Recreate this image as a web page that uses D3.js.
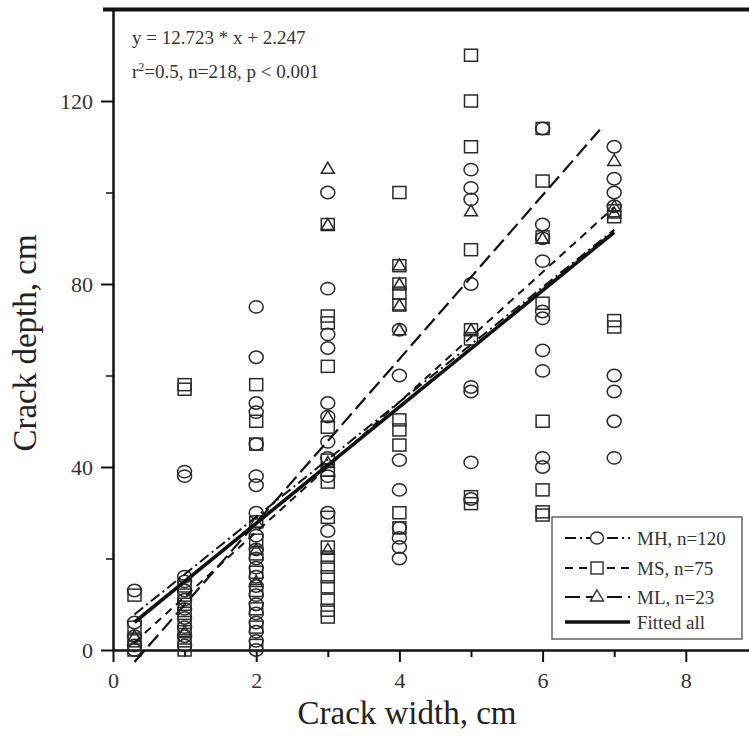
<!DOCTYPE html>
<html>
<head>
<meta charset="utf-8">
<script src="https://cdn.jsdelivr.net/npm/d3@7"></script>
<style>
  body { margin: 0; background: #fff; }
  svg { display: block; font-family: "Liberation Serif", "DejaVu Serif", serif; }
  .axis path, .axis line { stroke: #111; }
  .axis text { font-family: "Liberation Serif", serif; fill: #333; }
</style>
</head>
<body>
<script>
// crack width columns and depth readings, one list per group
var xMajor = [0, 2, 4, 6, 8],
   xMinor = [1, 3, 5, 7],
   yMajor = [0, 40, 80, 120],
   yMinor = [20, 60, 100, 140];

var mhPoints = [
   [0.3, 13], [0.3, 6], [0.3, 3], [0.3, 1], [0.3, 0],
   [1, 39], [1, 38], [1, 16], [1, 15], [1, 13], [1, 11], [1, 9], [1, 7], [1, 5], [1, 3], [1, 1],
   [2, 75], [2, 64], [2, 54], [2, 52], [2, 45], [2, 38], [2, 36], [2, 30], [2, 25], [2, 22], [2, 20],
   [2, 18], [2, 16], [2, 14], [2, 12], [2, 10], [2, 8], [2, 6], [2, 4], [2, 2], [2, 0],
   [3, 100], [3, 79], [3, 69], [3, 66], [3, 54], [3, 51], [3, 45.5], [3, 42], [3, 38], [3, 30], [3, 26],
   [4, 70], [4, 60], [4, 41.5], [4, 35], [4, 26.7], [4, 24.5], [4, 22.5], [4, 20],
   [5, 105], [5, 101], [5, 98.5], [5, 80], [5, 57.5], [5, 56.5], [5, 41], [5, 33],
   [6, 114], [6, 93], [6, 90], [6, 85], [6, 74], [6, 72.5], [6, 65.5], [6, 61], [6, 42], [6, 40],
   [7, 110], [7, 103], [7, 100], [7, 97], [7, 60], [7, 56.5], [7, 50], [7, 42]
];

var msPoints = [
   [0.3, 12], [0.3, 5], [0.3, 2], [0.3, 0],
   [1, 58], [1, 57], [1, 14], [1, 12], [1, 10], [1, 8], [1, 6], [1, 4], [1, 2], [1, 0],
   [2, 58], [2, 50], [2, 45], [2, 28], [2, 24], [2, 21], [2, 17], [2, 13], [2, 9], [2, 5], [2, 1],
   [3, 93], [3, 73], [3, 71.5], [3, 62], [3, 48.7], [3, 41.5], [3, 39.3], [3, 36.7], [3, 29],
   [3, 22.5], [3, 20.3], [3, 18.1], [3, 16], [3, 13.8], [3, 10.9], [3, 8.7], [3, 7.2],
   [4, 100], [4, 84], [4, 80], [4, 78], [4, 75.4], [4, 50.3], [4, 48.1], [4, 44.8], [4, 30], [4, 26.7],
   [5, 130], [5, 120], [5, 110], [5, 87.5], [5, 70], [5, 68], [5, 33.5], [5, 32],
   [6, 114], [6, 102.5], [6, 90.3], [6, 75.8], [6, 50], [6, 35], [6, 30.2], [6, 29.5],
   [7, 96], [7, 94.7], [7, 72], [7, 70.6]
];

var mlPoints = [
   [0.3, 3], [1, 4], [2, 28], [2, 22], [2, 15], [3, 105.3], [3, 93], [3, 51], [3, 41], [3, 22],
   [4, 84.2], [4, 80], [4, 75.4], [4, 70], [5, 96], [5, 70], [6, 90], [7, 107], [7, 97], [7, 95.5]
];

// regression lines: slope, intercept, x range
var lineNames = ["MH", "MS", "ML", "Fitted all"],
   lineSlopes = [12.55, 14.2, 17.9, 12.723],
   lineIntercepts = [4.0, -2.6, -8.0, 2.247],
   lineStart = [0.3, 0.3, 0.3, 0.3],
   lineEnd = [7, 7, 6.8, 7];

var legendLabels = ["MH, n=120", "MS, n=75", "ML, n=23", "Fitted all"];

var width = 749, height = 747;

var x = d3.scaleLinear().domain([0, 9]).range([113, 757.4]);
var y = d3.scaleLinear().domain([0, 140]).range([650, 9.5]);

var svg = d3.select("body").append("svg")
   .attr("width", width)
   .attr("height", height);

//axes, major and minor ticks
svg.append("g")
   .attr("class", "axis")
   .attr("transform", "translate(0," + y(0) + ")")
   .call(d3.axisBottom(x).tickValues(xMinor).tickSize(7).tickSizeOuter(0).tickFormat(""))
   .call(function(g) { g.select(".domain").remove(); })
   .selectAll("line").attr("stroke-width", 2);

var xg = svg.append("g")
   .attr("class", "axis")
   .attr("transform", "translate(0," + y(0) + ")")
   .call(d3.axisBottom(x).tickValues(xMajor).tickSize(12).tickSizeOuter(0).tickPadding(10));
xg.select(".domain").attr("stroke-width", 2.5);
xg.selectAll("line").attr("stroke-width", 2);
xg.selectAll("text").attr("font-size", 22);

svg.append("g")
   .attr("class", "axis")
   .attr("transform", "translate(" + x(0) + ",0)")
   .call(d3.axisLeft(y).tickValues(yMinor).tickSize(7).tickSizeOuter(0).tickFormat(""))
   .call(function(g) { g.select(".domain").remove(); })
   .selectAll("line").attr("stroke-width", 1.5);

var yg = svg.append("g")
   .attr("class", "axis")
   .attr("transform", "translate(" + x(0) + ",0)")
   .call(d3.axisLeft(y).tickValues(yMajor).tickSize(12).tickSizeOuter(0).tickPadding(8));
yg.select(".domain").attr("stroke-width", 2.5);
yg.selectAll("line").attr("stroke-width", 2);
yg.selectAll("text").attr("font-size", 22);

// heavy top frame line
svg.append("line")
   .attr("x1", x(0) - 10).attr("x2", width)
   .attr("y1", y(140)).attr("y2", y(140))
   .attr("stroke", "#111").attr("stroke-width", 4);

// markers
var markStroke = "#2a2a2a";

svg.append("g").selectAll("rect")
   .data(msPoints)
   .enter().append("rect")
   .attr("x", function(d) { return x(d[0]) - 6.5; })
   .attr("y", function(d) { return y(d[1]) - 6; })
   .attr("width", 13).attr("height", 12)
   .attr("fill", "none").attr("stroke", markStroke).attr("stroke-width", 1.5);

svg.append("g").selectAll("ellipse")
   .data(mhPoints)
   .enter().append("ellipse")
   .attr("cx", function(d) { return x(d[0]); })
   .attr("cy", function(d) { return y(d[1]); })
   .attr("rx", 7).attr("ry", 6.2)
   .attr("fill", "none").attr("stroke", markStroke).attr("stroke-width", 1.5);

var tri = function(cx, cy) {
   return "M" + cx + "," + (cy - 6) + "L" + (cx + 6.5) + "," + (cy + 5) + "L" + (cx - 6.5) + "," + (cy + 5) + "Z";
};

svg.append("g").selectAll("path")
   .data(mlPoints)
   .enter().append("path")
   .attr("d", function(d) { return tri(x(d[0]), y(d[1])); })
   .attr("fill", "none").attr("stroke", markStroke).attr("stroke-width", 1.5);

// regression lines
var dashes = ["11,4,2,4", "8,6", "15,6", null],
   widths = [2, 2, 2.2, 3.6];

var fits = lineNames.map(function(n, i) {
   return {
      name: n,
      pts: [lineStart[i], lineEnd[i]].map(function(v) {
         return [v, lineSlopes[i] * v + lineIntercepts[i]];
      }),
      dash: dashes[i],
      w: widths[i]
   };
});

var line = d3.line()
   .x(function(d) { return x(d[0]); })
   .y(function(d) { return y(d[1]); });

svg.append("g").selectAll("path")
   .data(fits)
   .enter().append("path")
   .attr("d", function(d) { return line(d.pts); })
   .attr("fill", "none")
   .attr("stroke", "#111")
   .attr("stroke-width", function(d) { return d.w; })
   .attr("stroke-dasharray", function(d) { return d.dash; });

// equation text
svg.append("text")
   .attr("x", 132).attr("y", 44)
   .attr("font-size", 19).attr("fill", "#333")
   .text("y = 12.723 * x + 2.247");

var t2 = svg.append("text")
   .attr("x", 132).attr("y", 78)
   .attr("font-size", 19).attr("fill", "#333");
t2.append("tspan").text("r");
t2.append("tspan").attr("dy", -7).attr("font-size", 12).text("2");
t2.append("tspan").attr("dy", 7).text("=0.5, n=218, p < 0.001");

// axis titles
svg.append("text")
   .attr("x", 407).attr("y", 724)
   .attr("text-anchor", "middle")
   .attr("font-size", 33).attr("fill", "#222")
   .text("Crack width, cm");

svg.append("text")
   .attr("transform", "translate(36,343) rotate(-90)")
   .attr("text-anchor", "middle")
   .attr("font-size", 33).attr("fill", "#222")
   .text("Crack depth, cm");

// legend
var lg = svg.append("g");
lg.append("rect")
   .attr("x", 552).attr("y", 517)
   .attr("width", 190).attr("height", 122)
   .attr("fill", "#fff").attr("stroke", "#666").attr("stroke-width", 1.5);

var rowY = [538, 568, 597, 622];

legendLabels.forEach(function(lab, i) {
   var ry = rowY[i];
   lg.append("line")
      .attr("x1", 565).attr("x2", 630)
      .attr("y1", ry).attr("y2", ry)
      .attr("stroke", "#111")
      .attr("stroke-width", i == 3 ? 3.6 : 1.8)
      .attr("stroke-dasharray", dashes[i]);
   if (i == 0) {
      lg.append("ellipse").attr("cx", 597).attr("cy", ry).attr("rx", 6.5).attr("ry", 6)
         .attr("fill", "#fff").attr("stroke", markStroke).attr("stroke-width", 1.4);
   } else if (i == 1) {
      lg.append("rect").attr("x", 591).attr("y", ry - 6).attr("width", 12).attr("height", 12)
         .attr("fill", "#fff").attr("stroke", markStroke).attr("stroke-width", 1.4);
   } else if (i == 2) {
      lg.append("path").attr("d", tri(597, ry - 1))
         .attr("fill", "#fff").attr("stroke", markStroke).attr("stroke-width", 1.4);
   }
   lg.append("text")
      .attr("x", 637).attr("y", ry + 7)
      .attr("font-size", 19).attr("fill", "#333")
      .text(lab);
});
</script>
</body>
</html>
